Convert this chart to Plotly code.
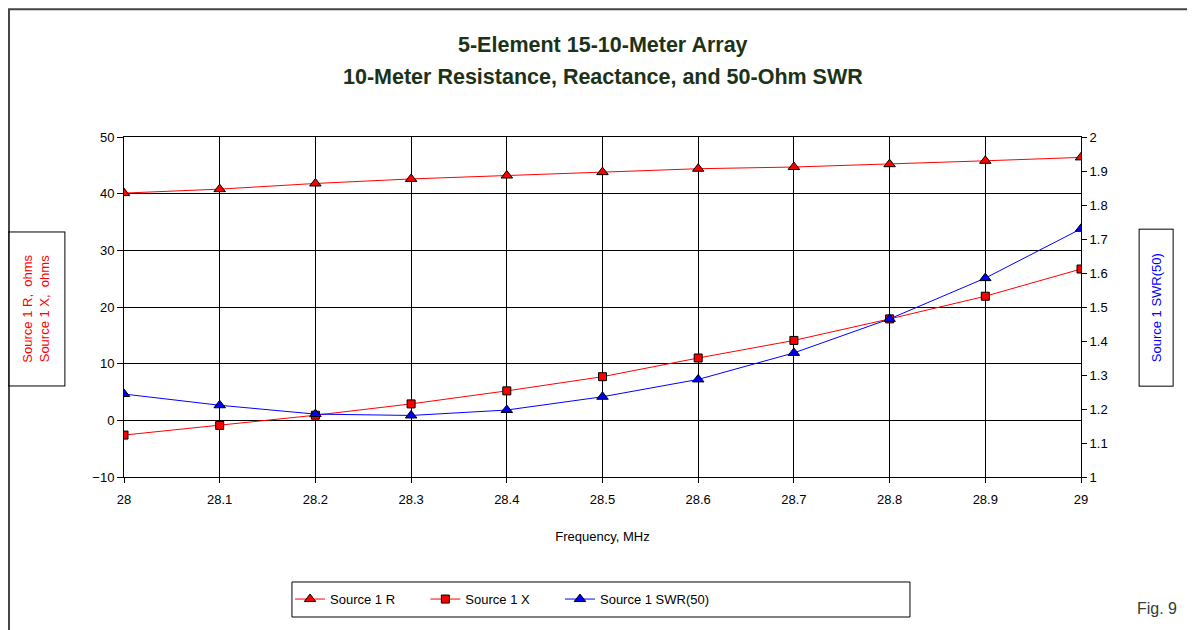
import plotly.graph_objects as go

# Frequency, MHz
freq = [28.0, 28.1, 28.2, 28.3, 28.4, 28.5, 28.6, 28.7, 28.8, 28.9, 29.0]
# Source 1 R, ohms
res_r = [40.1, 40.8, 41.8, 42.6, 43.2, 43.8, 44.4, 44.7, 45.2, 45.8, 46.4]
# Source 1 X, ohms
reac_x = [-2.6, -0.9, 0.9, 2.9, 5.2, 7.7, 11.0, 14.1, 17.9, 21.9, 26.7]
# Source 1 SWR(50)
swr = [1.244, 1.211, 1.185, 1.181, 1.197, 1.236, 1.287, 1.365, 1.465, 1.585, 1.73]

x_ticks = [28, 28.1, 28.2, 28.3, 28.4, 28.5, 28.6, 28.7, 28.8, 28.9, 29]
x_tick_text = ["28", "28.1", "28.2", "28.3", "28.4", "28.5", "28.6", "28.7", "28.8", "28.9", "29"]
swr_ticks = [1, 1.1, 1.2, 1.3, 1.4, 1.5, 1.6, 1.7, 1.8, 1.9, 2]
swr_tick_text = ["1", "1.1", "1.2", "1.3", "1.4", "1.5", "1.6", "1.7", "1.8", "1.9", "2"]

FONT = "Liberation Sans, Arial, sans-serif"
TITLE_COLOR = "#1c3318"
NB = "\u00a0"

fig = go.Figure()

fig.add_trace(go.Scatter(
    x=freq, y=res_r, name="Source 1 R" + NB * 7, mode="lines+markers",
    line=dict(color="#ff0000", width=1),
    marker=dict(symbol="triangle-up", size=10, color="#ff0000",
                line=dict(color="black", width=1)),
))
fig.add_trace(go.Scatter(
    x=freq, y=reac_x, name="Source 1 X" + NB * 7, mode="lines+markers",
    line=dict(color="#ff0000", width=1),
    marker=dict(symbol="square", size=8, color="#ff0000",
                line=dict(color="black", width=1)),
))
fig.add_trace(go.Scatter(
    x=freq, y=swr, name="Source 1 SWR(50)", mode="lines+markers", yaxis="y2",
    line=dict(color="#0000ff", width=1),
    marker=dict(symbol="triangle-up", size=10, color="#0000ff",
                line=dict(color="black", width=1)),
))

# page body adds an 8px offset, so the div is slightly smaller than the window
fig.update_layout(
    width=1187, height=622,
    margin=dict(l=116, r=114, t=129, b=153, autoexpand=False),
    paper_bgcolor="white", plot_bgcolor="white",
    font=dict(family=FONT, size=13, color="black"),
    xaxis=dict(
        range=[28, 29], tickvals=x_ticks, ticktext=x_tick_text,
        showgrid=True, gridcolor="black", gridwidth=1,
        showline=True, linecolor="black", linewidth=1, mirror=True,
        ticks="outside", ticklen=5, tickcolor="black", zeroline=False,
        ticklabelstandoff=5, automargin=False,
        title=dict(text="Frequency, MHz", font=dict(size=13), standoff=26),
    ),
    yaxis=dict(
        range=[-10, 50], dtick=10, automargin=False,
        showgrid=True, gridcolor="black", gridwidth=1,
        showline=True, linecolor="black", linewidth=1,
        ticks="outside", ticklen=6, tickcolor="black",
        zeroline=True, zerolinecolor="black", zerolinewidth=1,
    ),
    yaxis2=dict(
        range=[1, 2], tickvals=swr_ticks, ticktext=swr_tick_text,
        overlaying="y", side="right", automargin=False,
        showgrid=False, showline=True, linecolor="black", linewidth=1,
        ticks="outside", ticklen=5, tickcolor="black", zeroline=False,
    ),
    # inner half of the crossing ticks on the SWR axis
    yaxis3=dict(
        range=[1, 2], tickvals=swr_ticks, overlaying="y", side="right",
        anchor="x", showticklabels=False, automargin=False,
        showgrid=False, showline=False, zeroline=False,
        ticks="inside", ticklen=5, tickcolor="black",
    ),
    showlegend=True,
    legend=dict(
        orientation="h", x=0.1735, xanchor="left", y=-0.315, yanchor="top",
        borderwidth=0, bgcolor="rgba(0,0,0,0)", font=dict(size=13),
    ),
)

# legend frame
fig.add_shape(type="rect", xref="paper", yref="paper",
              x0=0.1755, x1=0.8213, y0=-0.4118, y1=-0.3088,
              line=dict(color="black", width=1), layer="below")

# Two-line title
fig.add_annotation(
    text="<b>5-Element 15-10-Meter Array</b>",
    xref="paper", yref="paper", x=0.5, y=1.2706, xanchor="center", yanchor="middle",
    showarrow=False, font=dict(size=21.5, color=TITLE_COLOR),
)
fig.add_annotation(
    text="<b>10-Meter Resistance, Reactance, and 50-Ohm SWR</b>",
    xref="paper", yref="paper", x=0.5, y=1.1765, xanchor="center", yanchor="middle",
    showarrow=False, font=dict(size=21.5, color=TITLE_COLOR),
)

# Axis titles in boxes
fig.add_annotation(
    text=NB * 3 + "Source 1 R,  ohms" + NB * 3 + "<br>" + NB * 3 + "Source 1 X,  ohms" + NB * 3,
    xref="paper", yref="paper", x=-0.0915, y=0.494, xanchor="center", yanchor="middle",
    textangle=-90, showarrow=False, font=dict(color="#ff0000", size=13),
    bordercolor="black", borderwidth=1, borderpad=12, bgcolor="rgba(0,0,0,0)",
)
fig.add_annotation(
    text=NB * 4 + "Source 1 SWR(50)" + NB * 4,
    xref="paper", yref="paper", x=1.078, y=0.497, xanchor="center", yanchor="middle",
    textangle=-90, showarrow=False, font=dict(color="#0000ff", size=13),
    bordercolor="black", borderwidth=1, borderpad=9, bgcolor="white",
)
fig.add_annotation(
    text="Fig. 9", xref="paper", yref="paper", x=1.079, y=-0.388,
    xanchor="center", yanchor="middle", showarrow=False,
    font=dict(size=16, color="#333d33"),
)

# Outer chart frame
fig.add_shape(type="rect", xref="paper", yref="paper",
              x0=-0.1202, x1=1.3, y0=-0.7, y1=1.376,
              line=dict(color="#444444", width=2), layer="below")

fig.write_html("out.html")
